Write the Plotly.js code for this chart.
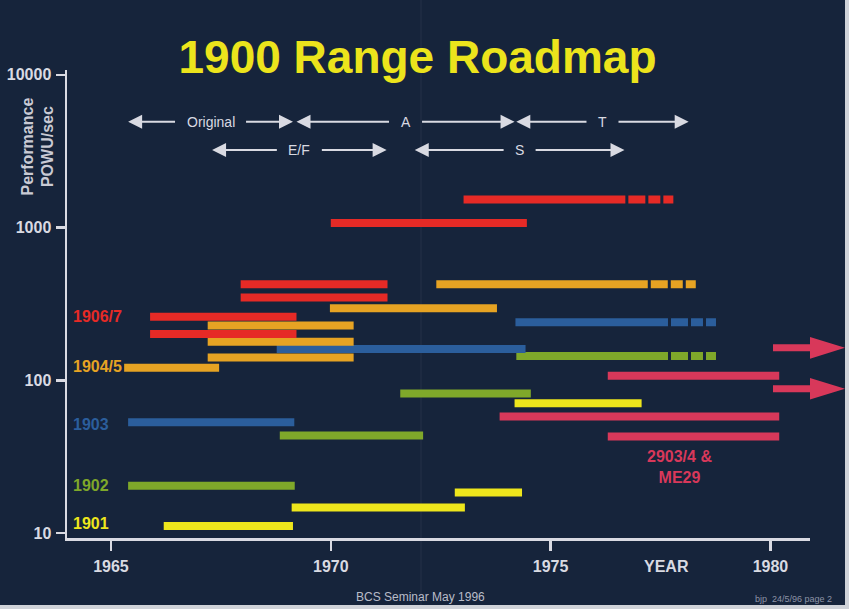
<!DOCTYPE html>
<html>
<head>
<meta charset="utf-8">
<script src="https://cdn.plot.ly/plotly-3.0.1.min.js"></script>
<style>
  html, body { margin: 0; padding: 0; background: #cfd2d8; }
  #chart { width: 845px; height: 605px; }
</style>
</head>
<body>
<div id="chart"></div>
<script>
// ---------------- DATA ----------------
// Each bar: start year, end of solid part, end year (dashed tail), performance (POWU/sec), family
const barStart    = [1973.02, 1970.00, 1967.95, 1967.95, 1969.98, 1972.40, 1965.89, 1967.20, 1965.89, 1967.20,
                     1968.77, 1967.20, 1965.30, 1974.20, 1974.22, 1976.30, 1971.58, 1974.18, 1973.84, 1965.39,
                     1968.84, 1976.30, 1965.39, 1972.82, 1969.11, 1966.20];
const barSolidEnd = [1976.70, null, null, null, null, 1977.21, null, null, null, null,
                     null, null, null, 1977.67, 1977.67, null, null, null, null, null,
                     null, null, null, null, null, null];
const barEnd      = [1977.80, 1974.46, 1971.29, 1971.29, 1973.78, 1978.31, 1969.22, 1970.52, 1969.22, 1970.52,
                     1974.43, 1970.52, 1967.46, 1978.80, 1978.80, 1980.20, 1974.55, 1977.07, 1980.20, 1969.17,
                     1972.10, 1980.20, 1969.18, 1974.35, 1973.05, 1969.14];
const barValue    = [1530, 1070, 425, 349, 296, 425, 261, 228, 201, 179,
                     160, 141, 121, 240, 144, 107, 82, 70.7, 57.8, 53,
                     43.4, 42.8, 20.4, 18.4, 14.7, 11.1];
const barFamily   = ['red','red','red','red','orange','orange','red','orange','red','orange',
                     'blue','orange','orange','blue','green','pink','green','yellow','pink','blue',
                     'green','pink','green','yellow','yellow','yellow'];

// Family labels on the left
const familyNames  = ['1906/7', '1904/5', '1903', '1902', '1901'];
const familyKeys   = ['red', 'orange', 'blue', 'green', 'yellow'];
const familyLabelY = [261, 124, 51, 20.6, 11.5];

// Architecture eras (arrows at top)
const eraNames = ['Original', 'A', 'T', 'E/F', 'S'];
const eraStart = [1965.39, 1969.22, 1974.22, 1967.30, 1971.91];
const eraEnd   = [1969.14, 1974.18, 1978.14, 1971.27, 1976.68];
const eraRow   = [0, 0, 0, 1, 1];

// Continuation arrows beyond 1980 (performance levels)
const contArrowValues = [163, 88];

// Axis ticks
const xTickVals = [1965, 1970, 1975, 1980];
const xTickText = ['1965', '1970', '1975', '1980'];
const yTickVals = [10, 100, 1000, 10000];
const yTickText = ['10', '100', '1000', '10000'];

// ---------------- STYLE ----------------
const colors = {
  red: '#e62a26', orange: '#e6a323', blue: '#2b5e9c', green: '#7fa82a',
  yellow: '#eee61c', pink: '#d8385a'
};
const bg = '#16243b';
const fg = '#d9dae2';
const FONT = 'Liberation Sans, Arial, sans-serif';
const W = 845, H = 605;
const M = { l: 67, r: 35, t: 70, b: 67 };
const xRange = [1964.0, 1980.9];
const yRange = [0.967, 4.032];
const plotW = W - M.l - M.r, plotH = H - M.t - M.b;

const px2paperX = p => (p - M.l) / plotW;
const py2paperY = p => (H - M.b - p) / plotH;
const val2paperY = v => (Math.log10(v) - yRange[0]) / (yRange[1] - yRange[0]);

// ---------------- TRACES ----------------
const traces = [];
const solidByFam = {};
for (let i = 0; i < barStart.length; i++) {
  const f = barFamily[i];
  const se = barSolidEnd[i] == null ? barEnd[i] : barSolidEnd[i];
  if (!solidByFam[f]) solidByFam[f] = { x: [], y: [] };
  solidByFam[f].x.push(barStart[i], se, null);
  solidByFam[f].y.push(barValue[i], barValue[i], null);
  if (se < barEnd[i]) {
    traces.push({
      type: 'scatter', mode: 'lines', x: [se, barEnd[i]], y: [barValue[i], barValue[i]],
      line: { color: colors[f], width: 8, dash: '0px,3px,17px,3px,12px,3px,10px,200px' },
      hoverinfo: 'skip', showlegend: false
    });
  }
}
Object.keys(solidByFam).forEach(f => {
  traces.unshift({
    type: 'scatter', mode: 'lines', x: solidByFam[f].x, y: solidByFam[f].y,
    connectgaps: false, line: { color: colors[f], width: 8 },
    hoverinfo: 'skip', showlegend: false
  });
});

// ---------------- ANNOTATIONS ----------------
const annotations = [];
const rowY = [py2paperY(121.7), py2paperY(150)];
for (let i = 0; i < eraNames.length; i++) {
  const mid = (eraStart[i] + eraEnd[i]) / 2;
  [eraStart[i], eraEnd[i]].forEach((tip, k) => {
    annotations.push({
      text: eraNames[i], xref: 'x', yref: 'paper', x: tip, y: rowY[eraRow[i]],
      axref: 'x', ax: mid, ayref: 'pixel', ay: 0, xanchor: 'center', yanchor: 'middle',
      showarrow: true, arrowhead: 2, arrowsize: 1.4, arrowwidth: 2, arrowcolor: fg,
      startstandoff: 10,
      font: { family: FONT, size: 14, color: k === 0 ? fg : 'rgba(0,0,0,0)' }
    });
  });
}
for (let i = 0; i < familyNames.length; i++) {
  annotations.push({
    text: '<b>' + familyNames[i] + '</b>', xref: 'x', yref: 'y',
    x: 1964.09, y: Math.log10(familyLabelY[i]), xanchor: 'left', yanchor: 'middle',
    showarrow: false, font: { family: FONT, size: 16, color: colors[familyKeys[i]] }
  });
}
annotations.push({
  text: '<b>2903/4 &amp;<br>ME29</b>', xref: 'x', yref: 'y', x: 1977.93, y: Math.log10(27),
  xanchor: 'center', yanchor: 'middle', showarrow: false,
  font: { family: FONT, size: 16, color: colors.pink }
});
annotations.push({
  text: '<b>YEAR</b>', xref: 'x', yref: 'paper', x: 1977.63, y: py2paperY(566.5),
  xanchor: 'center', yanchor: 'middle', showarrow: false,
  font: { family: FONT, size: 16, color: fg }
});
annotations.push({
  text: '<b>Performance<br>POWU/sec</b>', xref: 'paper', yref: 'paper',
  x: px2paperX(37.5), y: py2paperY(147), textangle: -90, xanchor: 'center', yanchor: 'middle',
  showarrow: false, font: { family: FONT, size: 16, color: '#c9cad4' }
});
annotations.push({
  text: 'BCS Seminar May 1996', xref: 'paper', yref: 'paper',
  x: px2paperX(420), y: py2paperY(597), xanchor: 'center', yanchor: 'middle',
  showarrow: false, font: { family: FONT, size: 12, color: '#b9bcc8' }
});
annotations.push({
  text: 'bjp  24/5/96 page 2', xref: 'paper', yref: 'paper',
  x: px2paperX(793), y: py2paperY(599), xanchor: 'center', yanchor: 'middle',
  showarrow: false, borderpad: 0, font: { family: FONT, size: 9, color: '#8c93a6' }
});

// ---------------- SHAPES ----------------
const shapes = [];
// faint fold line of the original slide
shapes.push({
  type: 'line', xref: 'paper', yref: 'paper',
  x0: px2paperX(421), x1: px2paperX(421), y0: py2paperY(H), y1: py2paperY(0),
  line: { color: 'rgba(200,210,230,0.08)', width: 1 }, layer: 'below'
});
contArrowValues.forEach(v => {
  const yc = val2paperY(v);
  const s = 3.5 / plotH, h = 10.8 / plotH;
  const x0 = px2paperX(773), xb = px2paperX(810), xt = px2paperX(845);
  shapes.push({
    type: 'path', xref: 'paper', yref: 'paper',
    path: `M${x0},${yc - s} L${xb},${yc - s} L${xb},${yc - h} L${xt},${yc} L${xb},${yc + h} L${xb},${yc + s} L${x0},${yc + s} Z`,
    fillcolor: colors.pink, line: { width: 0 }
  });
});

// ---------------- LAYOUT ----------------
const axisCommon = {
  showgrid: false, zeroline: false, showline: true, linecolor: fg, linewidth: 2.5,
  ticks: 'outside', tickcolor: fg, tickwidth: 2.5,
  tickfont: { family: FONT, size: 16, color: fg, weight: 'bold' }
};
const layout = {
  width: W, height: H,
  margin: M,
  paper_bgcolor: bg, plot_bgcolor: bg,
  showlegend: false,
  title: {
    text: '<b>1900 Range Roadmap</b>',
    font: { family: FONT, size: 46, color: '#ece41c' },
    xref: 'container', x: 417.5 / W, xanchor: 'center',
    yref: 'container', y: 1 - 57 / H, yanchor: 'middle'
  },
  xaxis: Object.assign({}, axisCommon, {
    range: xRange, tickmode: 'array', tickvals: xTickVals, ticktext: xTickText,
    ticklen: 10, ticklabelstandoff: 2
  }),
  yaxis: Object.assign({}, axisCommon, {
    type: 'log', range: yRange, tickmode: 'array', tickvals: yTickVals, ticktext: yTickText,
    ticklen: 9, ticklabelstandoff: 1
  }),
  annotations: annotations,
  shapes: shapes
};

Plotly.newPlot('chart', traces, layout, { staticPlot: true, displayModeBar: false });
</script>
</body>
</html>
